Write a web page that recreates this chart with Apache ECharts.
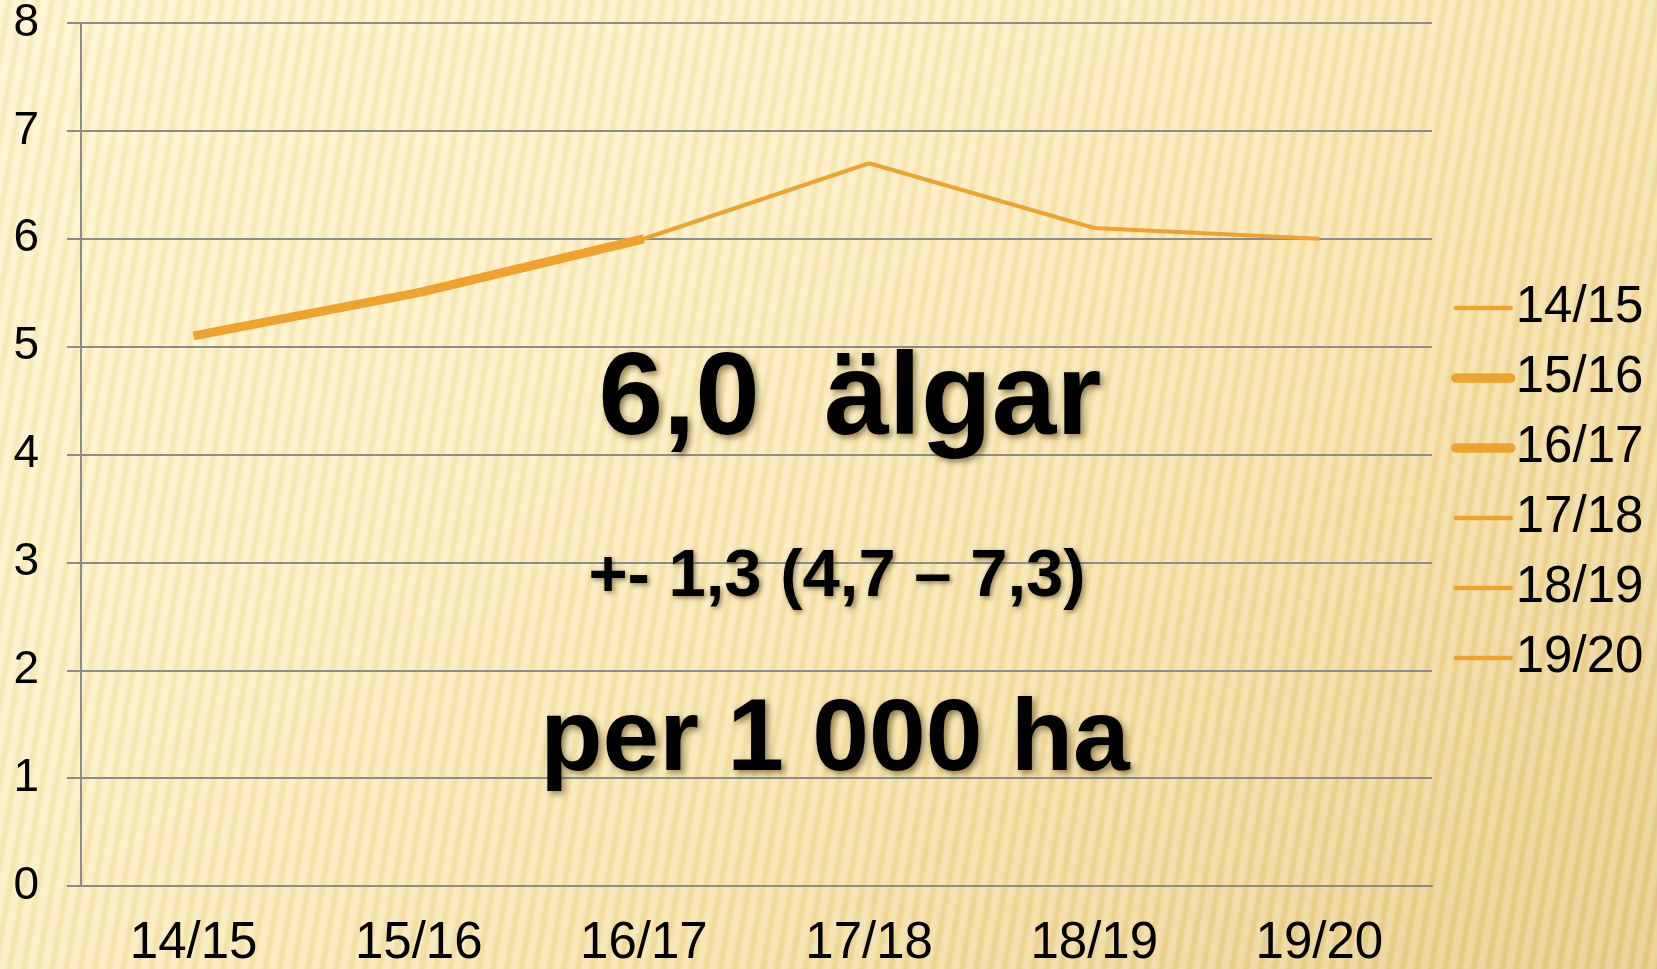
<!DOCTYPE html>
<html>
<head>
<meta charset="utf-8">
<script src="https://cdn.jsdelivr.net/npm/echarts@6.0.0/dist/echarts.min.js"></script>
<style>
  html, body { margin: 0; padding: 0; }
  body {
    width: 1657px;
    height: 969px;
    overflow: hidden;
    background:
      repeating-linear-gradient(100deg, rgba(255,255,255,0.20) 0px, rgba(255,255,255,0.20) 5px, rgba(190,150,50,0.09) 8px, rgba(190,150,50,0.09) 11px, rgba(255,255,255,0.20) 14px),
      linear-gradient(140deg, #fff4cc 0%, #fdefc0 35%, #f5e1a4 65%, #e6ca84 100%);
  }
  #chart { width: 1657px; height: 969px; }
</style>
</head>
<body>
<div id="chart"></div>
<script>
  // seasons on the x axis, moose per 1000 ha
  const seasons = ['14/15', '15/16', '16/17', '17/18', '18/19', '19/20'];
  const moose = [5.1, 5.5, 6.0, 6.7, 6.1, 6.0];
  const yTicks = [0, 1, 2, 3, 4, 5, 6, 7, 8];

  // the segment ending at these points is drawn thick (as in the original)
  const thickPoints = ['15/16', '16/17'];

  const lineColor = '#efa22e';
  const font = '"Liberation Sans", Arial, sans-serif';
  const shadow = {textShadowColor: 'rgba(60,40,0,0.55)', textShadowBlur: 6, textShadowOffsetX: 3, textShadowOffsetY: 3};

  let chart = echarts.init(document.getElementById('chart'));

  // one series per point: the segment that leads into it
  let series = seasons.map((name, i) => {
    let width = thickPoints.includes(name) ? 9 : 4;
    return {
      name: name,
      type: 'line',
      symbol: 'none',
      animation: false,
      lineStyle: {color: lineColor, width: width},
      itemStyle: {color: lineColor},
      data: moose.map((v, j) => (j === i || j === i - 1) ? v : null)
    };
  });

  let option = {
    backgroundColor: 'transparent',
    grid: {left: 81, right: 225, top: 23, bottom: 83},
    legend: {
      orient: 'vertical',
      left: 1451,
      top: 282,
      padding: 0,
      itemWidth: 55,
      itemHeight: 20,
      itemGap: 18,
      textStyle: {fontFamily: font, fontSize: 51, color: '#000', lineHeight: 52, padding: [0, 0, 0, 0]},
      data: series.map(s => ({
        name: s.name,
        itemStyle: {opacity: 0},
        lineStyle: {width: s.lineStyle.width + 0.5, color: lineColor, cap: 'round'}
      }))
    },
    xAxis: {
      type: 'category',
      data: seasons,
      boundaryGap: true,
      axisLine: {lineStyle: {color: '#8c8c8c', width: 2}},
      axisTick: {length: 14, lineStyle: {color: '#8c8c8c', width: 2}},
      axisLabel: {fontFamily: font, fontSize: 51, color: '#000', margin: 32}
    },
    yAxis: {
      type: 'value',
      min: yTicks[0],
      max: yTicks[yTicks.length - 1],
      interval: 1,
      axisLine: {show: true, lineStyle: {color: '#8c8c8c', width: 2}},
      axisTick: {show: true, length: 14, lineStyle: {color: '#8c8c8c', width: 2}},
      splitLine: {lineStyle: {color: '#8c8c8c', width: 2}},
      axisLabel: {fontFamily: font, fontSize: 46, color: '#000', margin: 42}
    },
    graphic: [
      {
        type: 'text', x: 850, y: 402, z: 100,
        style: Object.assign({
          text: '6,0  älgar', align: 'center', verticalAlign: 'middle',
          font: 'bold 116px ' + font, fill: '#000'
        }, shadow)
      },
      {
        type: 'text', x: 837, y: 578, z: 100,
        style: Object.assign({
          text: '+- 1,3 (4,7 – 7,3)', align: 'center', verticalAlign: 'middle',
          font: 'bold 67px ' + font, fill: '#000'
        }, shadow, {textShadowBlur: 5, textShadowOffsetX: 2, textShadowOffsetY: 2})
      },
      {
        type: 'text', x: 835, y: 742, z: 100,
        style: Object.assign({
          text: 'per 1 000 ha', align: 'center', verticalAlign: 'middle',
          font: 'bold 102px ' + font, fill: '#000'
        }, shadow)
      }
    ],
    series: series
  };

  chart.setOption(option);
</script>
</body>
</html>
